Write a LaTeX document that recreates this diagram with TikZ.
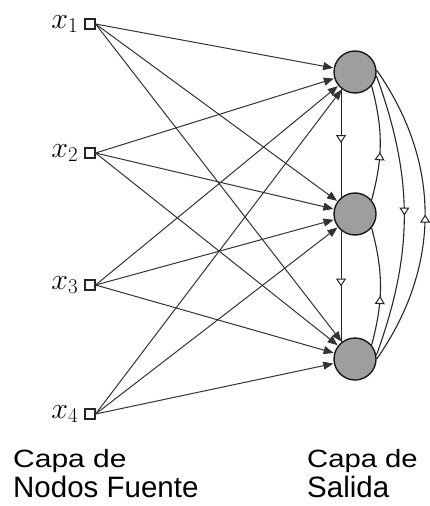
\RequirePackage{fix-cm}
\documentclass[tikz,border=0pt]{standalone}
\usepackage{fontspec}
\setmainfont{Liberation Sans}
\usetikzlibrary{arrows.meta, positioning, decorations.markings}
\tikzset{
  inp/.style={draw=black!85, line width=1.2pt, minimum size=10pt, inner sep=0pt},
  outn/.style={draw=black!90, line width=1.4pt, fill=black!38, circle, minimum size=42pt, inner sep=0pt},
  arr/.style={draw=black!80, line width=1pt, -{Triangle[length=10pt, width=8pt]}, shorten >=0.5pt},
  fb/.style={draw=black!85, line width=1.1pt, postaction={decorate},
    decoration={markings, mark=at position #1 with {\arrow{Triangle[length=8pt, width=10pt, fill=white, line width=1pt]}}}},
  lbl/.style={font=\fontsize{30}{30}\selectfont, inner sep=1pt},
  txt/.style={inner sep=0pt, anchor=base west},
}
\begin{document}
\begin{tikzpicture}[x=1pt, y=-1pt]
  \useasboundingbox (0,0) rectangle (430,506);
  % capa de nodos fuente
  \node[inp] (x1) at (90,24) {};
  \node[inp] (x2) at (90,153) {};
  \node[inp] (x3) at (90,285) {};
  \node[inp] (x4) at (90,414) {};
  \node[lbl, left=5pt of x1] (l1) {$x_1$};
  \node[lbl, left=5pt of x2] (l2) {$x_2$};
  \node[lbl, left=5pt of x3] (l3) {$x_3$};
  \node[lbl, left=5pt of x4] (l4) {$x_4$};
  % capa de salida
  \node[outn] (o1) at (355,72) {};
  \node[outn] (o2) at (355,214) {};
  \node[outn] (o3) at (355,359) {};
  % conexiones hacia adelante
  \foreach \i in {1,...,4}
    \foreach \j in {1,2,3}
      \draw[arr] (x\i.east) -- (o\j);
  % conexiones laterales
  \draw[fb=0.5] (o1.-130) -- (o2.130);
  \draw[fb=0.42] (o2.40) to[bend right=15] (o1.-40);
  \draw[fb=0.5] (o2.-130) -- (o3.130);
  \draw[fb=0.42] (o3.40) to[bend right=15] (o2.-40);
  \draw[fb=0.5] (o1.-10) to[out=-70, in=70] (o3.10);
  \draw[fb=0.5] (o3.0) to[out=55, in=-55] (o1.5);
  % rotulos
  \node[txt, font=\fontsize{25}{25}\selectfont] (cf1) at (13,467) {\scalebox{1.2}[1]{Capa de}};
  \node[txt, font=\fontsize{29.5}{30}\selectfont] (cf2) at (13,497) {Nodos Fuente};
  \node[txt, font=\fontsize{25}{25}\selectfont] (cs1) at (307,467) {\scalebox{1.17}[1]{Capa de}};
  \node[txt, font=\fontsize{29.5}{30}\selectfont] (cs2) at (307,497) {Salida};
\end{tikzpicture}
\end{document}
